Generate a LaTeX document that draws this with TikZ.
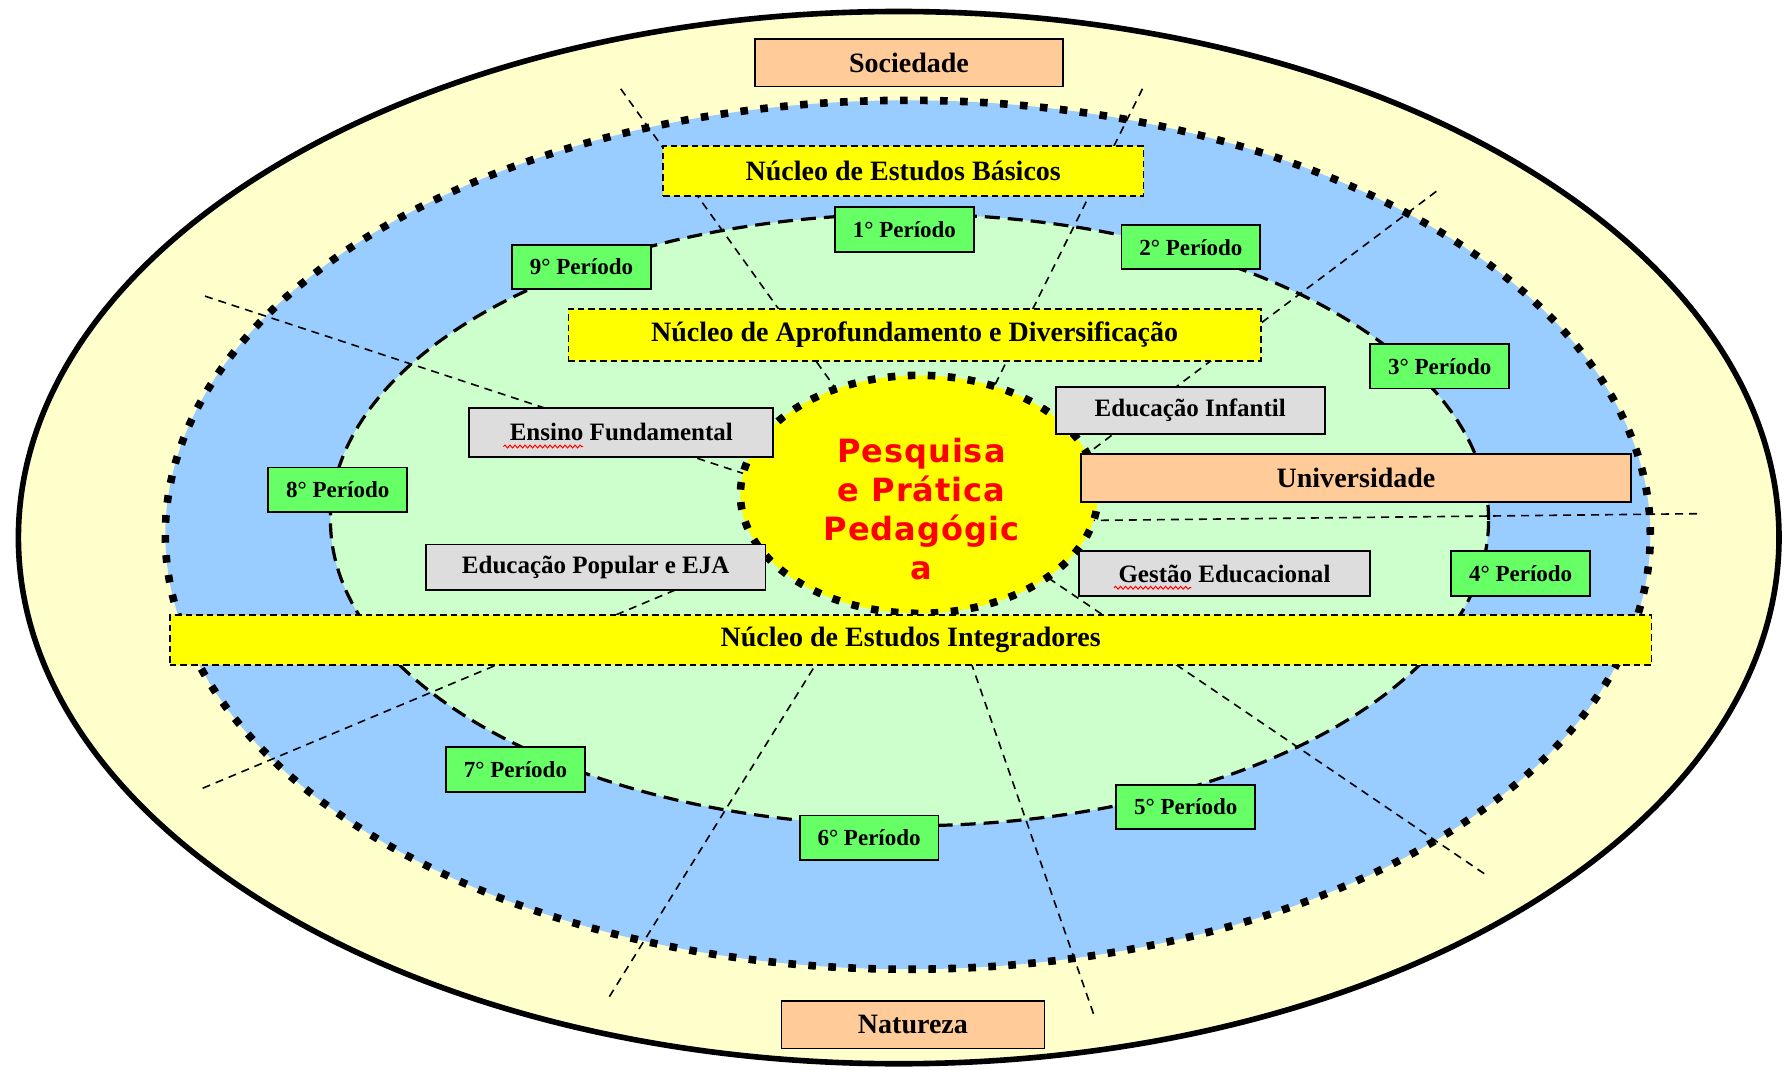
\documentclass[tikz,border=0pt]{standalone}
\usepackage{fontspec}
\setmainfont{Liberation Serif}
\newfontfamily\centrofont[LetterSpace=3]{DejaVu Sans}
\usepackage{tikz}
\usetikzlibrary{positioning, shapes, backgrounds, decorations.pathmorphing}

\definecolor{creme}{HTML}{FFFFCC}
\definecolor{azul}{HTML}{99CCFF}
\definecolor{verdeclaro}{HTML}{CCFFCC}
\definecolor{verde}{HTML}{66FF66}
\definecolor{pessego}{HTML}{FFCC99}
\definecolor{cinza}{HTML}{DDDDDD}
\definecolor{amarelo}{HTML}{FFFF00}
\definecolor{vermelho}{HTML}{FF0000}

\begin{document}
\begin{tikzpicture}[
    x=0.02cm, y=-0.02cm,
    block/.style={rectangle, draw, line width=0.9pt, inner sep=0pt, text centered, font=\bfseries},
    periodo/.style={block, fill=verde, minimum width=2.44cm, minimum height=0.78cm, font=\fontsize{11.5}{13}\selectfont\bfseries},
    nucleo/.style={block, fill=amarelo, dash pattern=on 3.3pt off 2pt, minimum height=0.88cm, font=\fontsize{14}{16}\selectfont\bfseries},
    campo/.style={block, fill=cinza, minimum height=0.8cm, font=\fontsize{12.5}{14}\selectfont\bfseries},
    contexto/.style={block, fill=pessego, minimum height=0.84cm, font=\fontsize{14}{16}\selectfont\bfseries},
    raio/.style={draw, line width=0.8pt, dash pattern=on 4pt off 3pt},
    pontos/.style={line width=3.8pt, dash pattern=on 3.8pt off 6.2pt},
    sublinha/.style={draw=vermelho, line width=0.5pt, decorate, decoration={snake, amplitude=0.7pt, segment length=2.5pt}}
    ]
    \useasboundingbox (0,0) rectangle (1568,939);

    % centro
    \node[ellipse, draw, fill=amarelo, pontos, minimum width=6.28cm, minimum height=4.18cm, inner sep=0pt] (ppp) at (807,434) {};
    \node[text=vermelho, font=\centrofont\bfseries\fontsize{16}{19.5}\selectfont, align=center] (ppptxt) at (809,447) {Pesquisa\\e Prática\\Pedagógic\\a};

    % contexto
    \node[contexto, minimum width=5.4cm] (soc) at (798,55) {Sociedade};
    \node[contexto, minimum width=9.66cm] (uni) at (1190.5,419.5) {Universidade};
    \node[contexto, minimum width=4.62cm] (nat) at (801.5,899.5) {Natureza};

    % nucleos
    \node[nucleo, minimum width=8.44cm] (nbas) at (793,150) {Núcleo de Estudos Básicos};
    \node[nucleo, minimum width=12.16cm, minimum height=0.92cm] (napr) at (803,294) {Núcleo de Aprofundamento e Diversificação};
    \node[nucleo, minimum width=26.02cm] (nint) at (799.5,562) {Núcleo de Estudos Integradores};

    % campos
    \node[campo, minimum width=5.34cm, minimum height=0.86cm] (ensf) at (545.5,379.5) {Ensino Fundamental};
    \node[campo, minimum width=4.72cm, minimum height=0.82cm] (edinf) at (1045,360.5) {Educação Infantil};
    \node[campo, minimum width=5.96cm] (edpop) at (523,498) {Educação Popular e EJA};
    \node[campo, minimum width=5.12cm, minimum height=0.78cm] (gest) at (1075,503.5) {Gestão Educacional};

    % periodos
    \node[periodo] (p1) at (794,201.5) {1° Período};
    \node[periodo] (p2) at (1045.5,217) {2° Período};
    \node[periodo] (p3) at (1264,321.5) {3° Período};
    \node[periodo] (p4) at (1335,503.5) {4° Período};
    \node[periodo] (p5) at (1041,708.5) {5° Período};
    \node[periodo] (p6) at (763,735.5) {6° Período};
    \node[periodo] (p7) at (452.5,675.5) {7° Período};
    \node[periodo] (p8) at (296.5,430) {8° Período};
    \node[periodo] (p9) at (510.5,234.5) {9° Período};

    \draw[sublinha] (442,392) -- (512,392);
    \draw[sublinha] (978,516) -- (1046,516);

    % raios
    \coordinate (r1o) at (545,78);   \coordinate (r1i) at (773,396);
    \coordinate (r2o) at (1003,78);  \coordinate (r2i) at (850,385);
    \coordinate (r3o) at (1261,168); \coordinate (r3i) at (935,413);
    \coordinate (r4o) at (1490,451); \coordinate (r4i) at (950,457);
    \coordinate (r5o) at (1303,767); \coordinate (r5i) at (905,497);
    \coordinate (r6o) at (960,890);  \coordinate (r6i) at (845,560);
    \coordinate (r7o) at (535,875);  \coordinate (r7i) at (740,545);
    \coordinate (r8o) at (178,692);  \coordinate (r8i) at (700,473);
    \coordinate (r9o) at (180,260);  \coordinate (r9i) at (690,428);

    \begin{scope}[on background layer]
    \draw[fill=creme, line width=2.8pt] (789,472) ellipse [x radius=15.46cm, y radius=9.24cm];
    \draw[fill=azul, pontos] (797,469.5) ellipse [x radius=13.04cm, y radius=7.63cm];
    \draw[fill=verdeclaro, line width=1.6pt, dash pattern=on 7.5pt off 4pt] (798.5,456.5) ellipse [x radius=10.17cm, y radius=5.37cm];

    \draw[raio] (r1o) -- (r1i);
    \draw[raio] (r2o) -- (r2i);
    \draw[raio] (r3o) -- (r3i);
    \draw[raio] (r4o) -- (r4i);
    \draw[raio] (r5o) -- (r5i);
    \draw[raio] (r6o) -- (r6i);
    \draw[raio] (r7o) -- (r7i);
    \draw[raio] (r8o) -- (r8i);
    \draw[raio] (r9o) -- (r9i);
    \end{scope}

  \end{tikzpicture}
\end{document}
